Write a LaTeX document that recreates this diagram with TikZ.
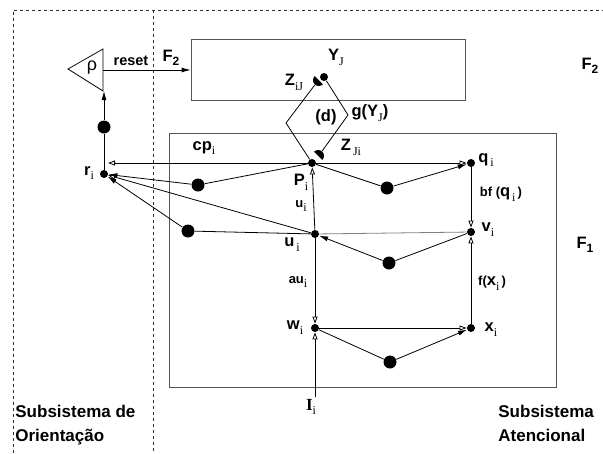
\documentclass[tikz,border=0pt]{standalone}
\usepackage{fontspec}
\setmainfont{Liberation Sans}
\newfontfamily\subfont{Liberation Serif}
\usetikzlibrary{arrows.meta,shapes.geometric}
\definecolor{boxcol}{HTML}{555555}
\definecolor{linkcol}{HTML}{808080}
\definecolor{dashcol}{HTML}{303030}
\newcommand{\lbl}[2]{#1\raisebox{-0.55ex}{\subfont\mdseries\fontsize{12}{12}\selectfont #2}}
\newcommand{\fsub}[2]{#1\raisebox{-0.45ex}{\fontsize{12}{12}\selectfont #2}}
\newcommand{\smalltxt}[1]{{\fontsize{13}{13}\selectfont #1}}

\begin{document}
\begin{tikzpicture}[x=1pt,y=-1pt,line width=0.8pt,
	dot/.style={circle,fill,inner sep=0pt,minimum size=8pt},
	bigdot/.style={circle,fill,inner sep=0pt,minimum size=13pt},
	syn/.style={semicircle,fill,inner sep=2.6pt},
	box/.style={draw=boxcol,inner sep=0pt},
	opn/.style={-{Triangle[open,length=7pt,width=5pt]}},
	fil/.style={-{Latex[length=9pt,width=5pt]}},
	lab/.style={font=\bfseries\fontsize{16.5}{16.5}\selectfont,inner sep=0pt},
	ttl/.style={font=\bfseries\fontsize{17}{24}\selectfont,align=left,anchor=west,inner sep=0pt}]
\useasboundingbox (0,0) rectangle (603,453);
\draw[dashcol,line width=0.7pt,dash pattern=on 3pt off 3pt] (13,453) -- (13,10) -- (603,10);
\draw[dashcol,line width=0.7pt,dash pattern=on 3pt off 3pt] (153,10) -- (153,453);

\node[box,minimum width=274pt,minimum height=61pt] (F2box) at (328,69.5) {};
\node[box,minimum width=387pt,minimum height=254pt] (F1box) at (362.5,260) {};

\coordinate (rhotip) at (68,69);
\coordinate (rhotop) at (103,49);
\coordinate (rhobot) at (103,91);
\coordinate (rhoout) at (103,70);
\draw (rhotip) -- (rhotop) -- (rhobot) -- cycle;

\foreach \n/\x/\y in {r/104/174,P/312/163,q/471/163,u/315/234,v/471/232,w/315/328,x/471/328,Y/324/77}
	\node[dot] (\n) at (\x,\y) {};
\foreach \n/\x/\y in {rm/104/127,pr/198/185,pq/387/188,ur/188/231,vu/389/263,wx/390/362}
	\node[bigdot] (\n) at (\x,\y) {};
\node[syn,rotate=135] (Zij) at (317,82) {};
\node[syn,rotate=-45] (Zji) at (320,154) {};

\coordinate (dl) at (286,123);
\coordinate (dr) at (348,115);
\coordinate (rcp) at (108,163);
\coordinate (Iin) at (315,397);

\draw (r) -- (rm);
\draw[fil] (rm) -- (rm |- rhobot);
\draw[fil] (rhoout) -- (rhoout -| F2box.west);
\draw (P) -- (dl) -- (Zij);
\draw (Y) -- (dr) -- (Zji);
\draw[opn] (P) -- (rcp);
\draw (P) -- (pr);
\draw[fil] (pr) -- (r);
\draw[opn] (P) -- (q);
\draw (P) -- (pq);
\draw[fil] (pq) -- (q);
\draw[opn] (u) -- (P);
\draw[opn] (u) -- (r);
\draw (u) -- (ur);
\draw[fil] (ur) -- (r);
\draw[linkcol] (u) -- (v);
\draw (v) -- (vu);
\draw[fil] (vu) -- (u);
\draw[opn] (q) -- (v);
\draw[opn] (x) -- (v);
\draw[opn] (u) -- (w);
\draw[opn] (Iin) -- (w);
\draw[opn] (w) -- (x);
\draw (w) -- (wx);
\draw[fil] (wx) -- (x);

\node[lab,font=\mdseries\fontsize{18}{18}\selectfont] (lrho) at (92,68) {ρ};
\node[lab,font=\bfseries\fontsize{14.5}{14.5}\selectfont] (lreset) at (131,61) {reset};
\node[lab] (lF2a) at (171,58) {\fsub{F}{2}};
\node[lab] (lF2b) at (590,66) {\fsub{F}{2}};
\node[lab] (lF1) at (585,245) {\fsub{F}{1}};
\node[lab] (lY) at (336,57) {\lbl{Y}{J}};
\node[lab] (lZij) at (294,82) {\lbl{Z}{iJ}};
\node[lab] (ld) at (326,117) {(d)};
\node[lab] (lg) at (370,113) {g(\lbl{Y}{J})};
\node[lab] (lZji) at (351,147) {\lbl{Z}{\,Ji}};
\node[lab] (lcp) at (204,148) {\lbl{cp}{i}};
\node[lab] (lr) at (89,173) {\lbl{r}{i}};
\node[lab] (lP) at (301,182) {\lbl{P}{i}};
\node[lab] (lq) at (486,160) {\lbl{q}{\,i}};
\node[lab,font=\bfseries\fontsize{13}{13}\selectfont] (lu1) at (301,206) {\lbl{u}{i}};
\node[lab] (lu2) at (292,245) {\lbl{u}{\,i}};
\node[lab,font=\bfseries\fontsize{13}{13}\selectfont] (lau) at (298,282) {\lbl{au}{i}};
\node[lab] (lv) at (488,230) {\lbl{v}{i}};
\node[lab] (lbf) at (501,194) {\smalltxt{bf (}\lbl{q}{\,i}\smalltxt{\,)}};
\node[lab] (lf) at (492,283) {\smalltxt{f(}\lbl{x}{i}\smalltxt{\,)}};
\node[lab] (lw) at (295,328) {\lbl{w}{i}};
\node[lab] (lx) at (491,330) {\lbl{x}{i}};
\node[lab,font=\subfont\bfseries\fontsize{17}{17}\selectfont] (lI) at (311,407) {I\raisebox{-0.55ex}{\mdseries\fontsize{12}{12}\selectfont i}};
\node[ttl] (lorient) at (15,425) {Subsistema de\\Orientação};
\node[ttl] (laten) at (498,423) {Subsistema\\Atencional};
\end{tikzpicture}
\end{document}
